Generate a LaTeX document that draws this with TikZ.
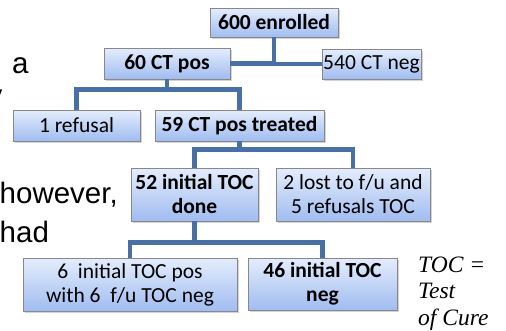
\documentclass[tikz,border=0pt]{standalone}
\usepackage{fontspec}
\usepackage{tikz}
\setmainfont{Carlito}
\newfontfamily\slidefont{Liberation Sans}
\newfontfamily\notefont{Liberation Serif}
\usetikzlibrary{shadows}
\definecolor{boxtop}{RGB}{228,237,252}
\definecolor{boxbottom}{RGB}{160,188,240}
\definecolor{boxline}{RGB}{135,135,140}
\definecolor{linkblue}{RGB}{72,112,166}

\begin{document}
\begin{tikzpicture}[x=1pt, y=-1pt,
    box/.style={draw=boxline, line width=0.9pt, top color=boxtop, bottom color=boxbottom,
      drop shadow={opacity=0.35, shadow xshift=1.5pt, shadow yshift=-2pt},
      inner sep=0pt, align=center, font=\fontsize{21.5}{24}\selectfont},
    link/.style={draw=linkblue, line width=4.5pt},
    slide/.style={anchor=base west, inner sep=0pt, font=\slidefont\fontsize{29.5}{29.5}\selectfont}]
        \useasboundingbox (0,0) rectangle (506,330);

        % text left over from the slide
        \node [slide] (worda) at (12, 73) {a};
        \node [slide] (wordy) at (-12.5, 105) {y};
        \node [slide] (however) at (-0.5, 203) {however,};
        \node [slide] (had) at (-0.5, 242) {had};

        \node [box, minimum width=128, minimum height=29] (enrolled) at (274, 22.5) {\textbf{600 enrolled}};
        \node [box, minimum width=126, minimum height=31] (pos) at (167, 63.5) {\textbf{60 CT pos}};
        \node [box, minimum width=99, minimum height=30] (neg) at (371.5, 64) {540 CT neg};
        \node [box, minimum width=127, minimum height=31] (refusal) at (76.5, 125.5) {1 refusal};
        \node [box, minimum width=169, minimum height=31] (treated) at (239.5, 125.5) {\textbf{59 CT pos treated}};
        \node [box, minimum width=127, minimum height=53] (done) at (194.5, 194.5) {\textbf{52 initial TOC}\\\textbf{done}};
        \node [box, minimum width=154, minimum height=53] (lost) at (353, 194.5) {2 lost to f/u and\\5 refusals TOC};
        \node [box, minimum width=214, minimum height=53] (tocpos) at (130, 284.5) {6 \ initial TOC pos\\with 6 \ f/u TOC neg};
        \node [box, minimum width=149, minimum height=52] (tocneg) at (322.5, 284) {\textbf{46 initial TOC}\\\textbf{neg}};

        \draw [link] (enrolled.south) |- (pos.east);
        \draw [link] (enrolled.south) |- (neg.west);
        \draw [link] (pos.south) -- ++(0, 10) -| (refusal.north);
        \draw [link] (pos.south) -- ++(0, 10) -| (treated.north);
        \draw [link] (treated.south) -- ++(0, 8) -| (done.north);
        \draw [link] (treated.south) -- ++(0, 8) -| (lost.north);
        \draw [link] (done.south) -- ++(0, 21) -| (tocpos.north);
        \draw [link] (done.south) -- ++(0, 21) -| (tocneg.north);

        % base of a three line node is the last line
        \node [anchor=base west, inner sep=0pt, align=left, font=\notefont\itshape\fontsize{23.5}{26.5}\selectfont] (note) at (418, 325) {TOC =\\Test\\of Cure};
      \end{tikzpicture}
\end{document}
